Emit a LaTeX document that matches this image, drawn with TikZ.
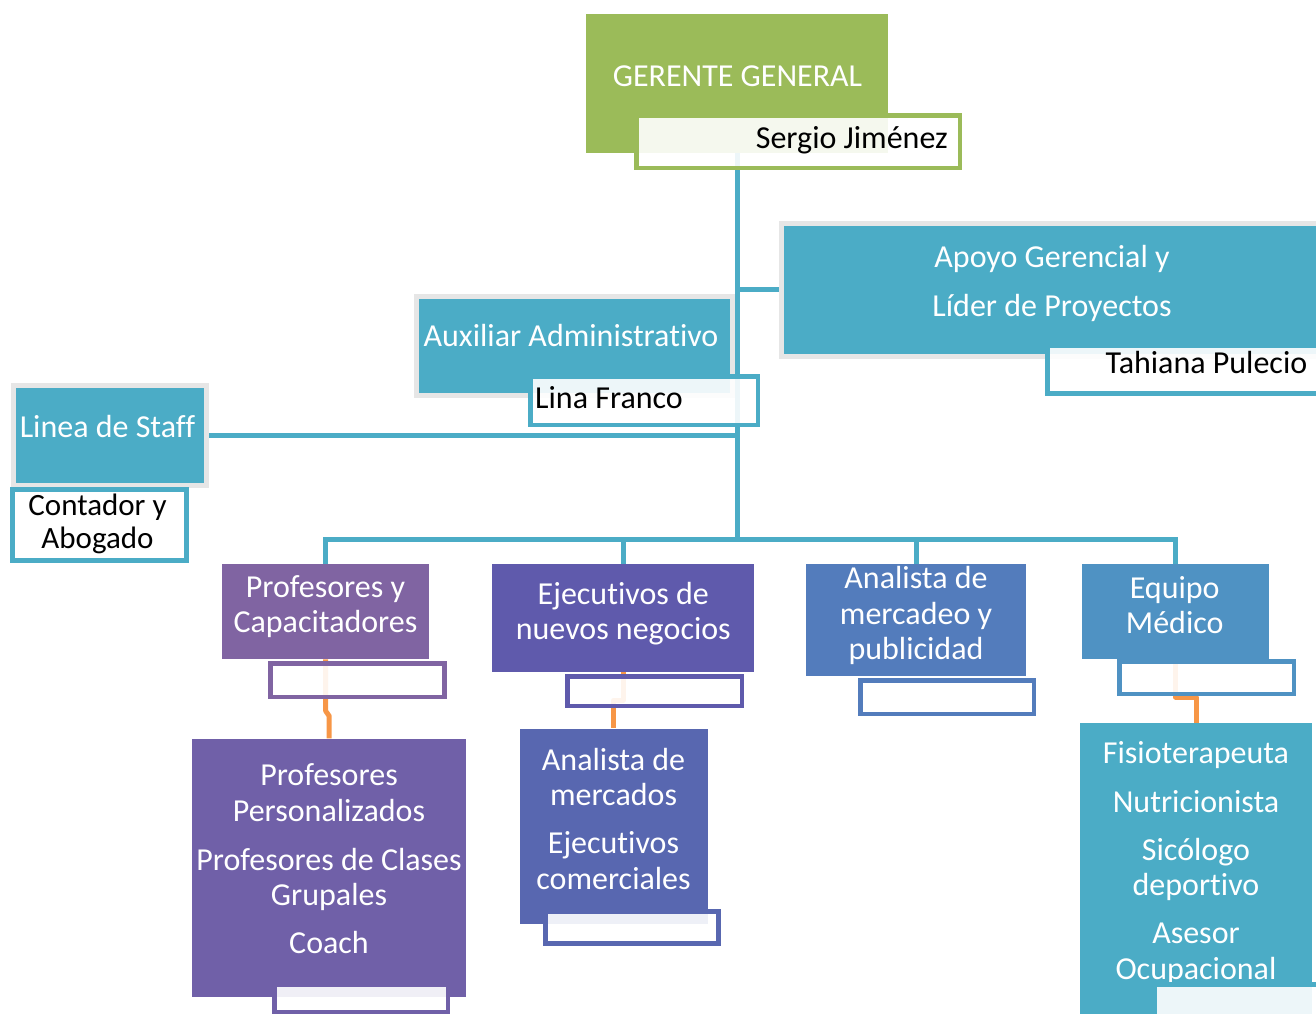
\documentclass[tikz,border=0pt]{standalone}
\usepackage{fontspec}
\setmainfont{Carlito}[Ligatures=NoCommon]
\usetikzlibrary{backgrounds}
\definecolor{cgreen}{HTML}{9BBB59}
\definecolor{cteal}{HTML}{4BACC6}
\definecolor{cgray}{HTML}{E6E6E6}
\definecolor{corange}{HTML}{F79646}
\definecolor{cpurA}{HTML}{8064A2}
\definecolor{cpurB}{HTML}{7060A8}
\definecolor{cind}{HTML}{5F5AAC}
\definecolor{cblA}{HTML}{5867B0}
\definecolor{cblB}{HTML}{537CBC}
\definecolor{cblC}{HTML}{4F92C3}
\begin{document}
\begin{tikzpicture}[x=1pt,y=-1pt,
  bx/.style={rectangle, inner sep=0pt, anchor=north west},
  gbox/.style={bx, fill=cteal, draw=cgray, line width=5pt},
  subbox/.style={bx, fill=white, fill opacity=0.9, line width=4.5pt},
  conn/.style={draw=cteal, line width=5pt},
  oconn/.style={draw=corange, line width=5pt},
  wt/.style={text=white, align=center, inner sep=0pt, font=\fontsize{32}{35.5}\selectfont},
  bt/.style={text=black, inner sep=0pt, font=\fontsize{32}{35.5}\selectfont}]
\useasboundingbox (0,0) rectangle (1316,1013);
\clip (0,0) rectangle (1316,1013);

% main boxes
\node[bx, fill=cgreen, minimum width=302pt, minimum height=139.5pt] (gg) at (586,13.5) {};
\node[gbox, minimum width=560pt, minimum height=132.5pt] (apoyo) at (778.5,221) {};
\node[gbox, minimum width=315.3pt, minimum height=99.7pt] (aux) at (414.2,293.5) {};
\node[gbox, minimum width=193pt, minimum height=99.3pt] (staff) at (10.5,383.2) {};
\node[bx, fill=cpurA, minimum width=207pt, minimum height=95pt] (p1) at (222,564) {};
\node[bx, fill=cind, minimum width=262pt, minimum height=108pt] (en) at (492,564) {};
\node[bx, fill=cblB, minimum width=220pt, minimum height=112pt] (amp) at (806,564) {};
\node[bx, fill=cblC, minimum width=187.5pt, minimum height=95pt] (eq) at (1081.5,564) {};
\node[bx, fill=cpurB, minimum width=274pt, minimum height=258.4pt] (pp) at (192,738.3) {};
\node[bx, fill=cblA, minimum width=187.3pt, minimum height=195.7pt] (am) at (520,728.3) {};
\node[bx, fill=cteal, minimum width=231.7pt, minimum height=320pt] (fis) at (1080,722.7) {};

% connectors
\begin{pgfonlayer}{background}
\coordinate (bus) at (737,539.5);
\draw[conn] (gg.south) -- (gg.south |- bus);
\draw[conn] (apoyo.west) -- (apoyo.west -| gg.south);
\draw[conn] (aux.east) -- (aux.east -| gg.south);
\draw[conn] (staff.east) -- (staff.east -| gg.south);
\draw[conn] (p1.north) |- (bus);
\draw[conn] (en.north) |- (bus);
\draw[conn] (amp.north) |- (bus);
\draw[conn] (eq.north) |- (bus);
\draw[oconn, line join=round] (p1.south) -- (p1.south |- 0,711) -- (pp.north |- 0,716) -- (pp.north);
\draw[oconn, line join=round] (en.south) -- (en.south |- 0,700) -- (am.north |- 0,700) -- (am.north);
\draw[oconn, line join=round] (eq.south) -- (eq.south |- 0,697) -- (fis.north |- 0,697) -- (fis.north);
\end{pgfonlayer}

% sub boxes
\node[subbox, draw=cgreen, minimum width=323.5pt, minimum height=52.5pt] (ggs) at (634.25,113.25) {};
\node[subbox, draw=cteal, minimum width=280pt, minimum height=47.8pt] (tah) at (1045.25,343.25) {};
\node[subbox, draw=cteal, minimum width=227.5pt, minimum height=48.5pt] (lina) at (528,374.25) {};
\node[subbox, draw=cteal, minimum width=174.2pt, minimum height=71.2pt] (cont) at (10.25,487.25) {};
\node[subbox, draw=cpurA, minimum width=174pt, minimum height=33.25pt] (p1s) at (268,661.25) {};
\node[subbox, draw=cind, minimum width=174.5pt, minimum height=29.75pt] (ens) at (565,674) {};
\node[subbox, draw=cblB, minimum width=173.5pt, minimum height=33.75pt] (amps) at (858.25,678) {};
\node[subbox, draw=cblC, minimum width=174.75pt, minimum height=32.75pt] (eqs) at (1117,659) {};
\node[subbox, draw=cpurB, minimum width=173.5pt, minimum height=27.25pt] (pps) at (272.25,982.25) {};
\node[subbox, draw=cblA, minimum width=173pt, minimum height=32pt] (ams) at (543,909) {};

% texts
\node[wt] (ggT) at (737.5,76) {GERENTE GENERAL};
\node[bt, anchor=base east] (ggsT) at (948,148) {Sergio Jiménez};
\node[wt] (apoyoT) at (1052,283) {Apoyo Gerencial y\\[13.5pt]Líder de Proyectos};
\node[bt, anchor=base east] (tahT) at (1307.5,373) {Tahiana Pulecio};
\node[wt] (auxT) at (571,335.5) {Auxiliar Administrativo};
\node[bt, anchor=base west] (linaT) at (535,408) {Lina Franco};
\node[wt] (staffT) at (107.5,426) {Linea de Staff};
\node[bt, align=center, font=\fontsize{31}{33}\selectfont] (contT) at (97.5,524) {Contador y\\Abogado};
\node[wt] (p1T) at (325.5,606.6) {Profesores y\\Capacitadores};
\node[wt] (enT) at (623.3,613.5) {Ejecutivos de\\nuevos negocios};
\node[wt] (ampT) at (916,615.8) {Analista de\\mercadeo y\\publicidad};
\node[wt] (eqT) at (1174.7,605) {Equipo\\Médico};
\node[wt] (ppT) at (329,859) {Profesores\\Personalizados\\[13.5pt]Profesores de Clases\\Grupales\\[12.5pt]Coach};
\node[wt] (amT) at (613.5,818.5) {Analista de\\mercados\\[12.5pt]Ejecutivos\\comerciales};
\begin{scope}
\clip (1080,722.7) rectangle (1312,981.5);
\node[wt] (fisT) at (1196,863) {Fisioterapeuta\\[13.5pt]Nutricionista\\[12.5pt]Sicólogo\\deportivo\\[12.5pt]Asesor\\Ocupacional};
\end{scope}
\node[subbox, draw=cteal, minimum width=200pt, minimum height=60pt] (fiss) at (1152.25,982.25) {};
\end{tikzpicture}
\end{document}
